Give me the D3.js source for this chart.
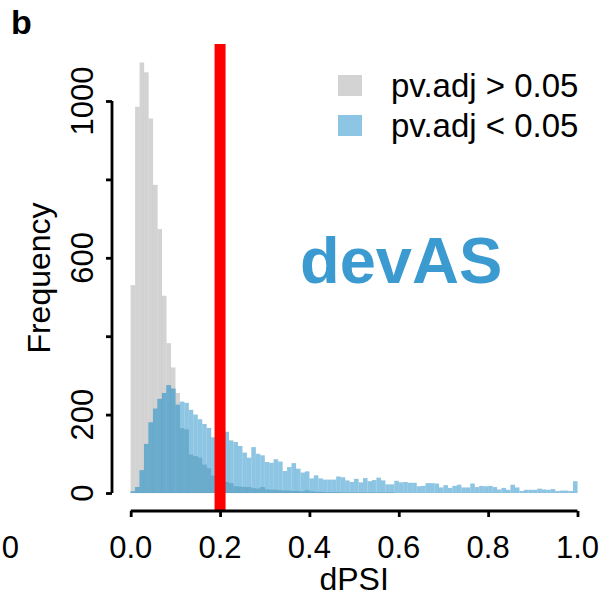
<!DOCTYPE html>
<html>
<head>
<meta charset="utf-8">
<script src="https://cdn.jsdelivr.net/npm/d3@7"></script>
<style>
  body { margin: 0; background: #fff; }
  svg text { font-family: "Liberation Sans", Arial, sans-serif; fill: #000; }
</style>
</head>
<body>
<div id="chart"></div>
<script>
// histogram counts per 0.01 dPSI bin (0.00 - 1.00)
var grayCounts = [
  530, 985, 1098, 1073, 955, 786, 673, 503, 382, 320,
  255, 165, 162, 98, 94, 90, 72, 63, 44, 36,
  31, 28, 25, 17, 16, 15, 15, 12, 11, 15,
  9, 8, 8, 7, 6, 6, 5, 5, 4, 7,
  4, 3, 3, 2, 2, 2, 2, 1, 1, 1,
  1, 1, 1, 1, 1, 1, 1, 1, 1, 0,
  0, 0, 0, 0, 0, 0, 0, 0, 0, 0,
  0, 0, 0, 0, 0, 0, 0, 0, 0, 0,
  0, 0, 0, 0, 0, 0, 0, 0, 0, 0,
  0, 0, 0, 0, 0, 0, 0, 0, 0, 0
];
var blueCounts = [
  4, 15, 58, 125, 180, 215, 240, 255, 275, 266,
  225, 233, 230, 212, 200, 188, 176, 166, 142, 150,
  140, 156, 134, 130, 120, 103, 90, 117, 100, 96,
  79, 77, 86, 80, 56, 66, 76, 62, 52, 55,
  37, 45, 37, 34, 34, 34, 42, 40, 32, 28,
  36, 27, 38, 30, 33, 39, 32, 22, 22, 31,
  27, 28, 26, 26, 17, 18, 25, 25, 24, 14,
  20, 13, 18, 21, 14, 14, 24, 15, 18, 17,
  18, 15, 9, 13, 8, 21, 14, 5, 8, 8,
  8, 11, 9, 8, 10, 5, 6, 6, 5, 30
];
var binWidth = 0.01;
var xTicks = [0, 0.2, 0.4, 0.6, 0.8, 1.0];
var yTicks = [0, 200, 400, 600, 800, 1000];
var yLabels = [0, 200, 600, 1000];
var legendLabels = ["pv.adj > 0.05", "pv.adj < 0.05"];
var cutoff = 0.2;

var width = 611, height = 606;
var grayColor = "#d3d3d3", blueColor = "#8cc6e4", overlapColor = "#6aaccd";

var svg = d3.select("#chart").append("svg")
  .attr("width", width)
  .attr("height", height);

var xScale = d3.scaleLinear().domain([0, 1]).range([130.7, 577.5]);
var yScale = d3.scaleLinear().domain([0, 1000]).range([493, 101]);

var bins = grayCounts.map(function(g, i) {
  return { x0: i * binWidth, gray: g, blue: blueCounts[i] };
});

function drawBars(cls, color, value) {
  svg.append("g").attr("class", cls)
    .selectAll("rect")
    .data(bins)
    .enter().append("rect")
    .attr("x", function(d) { return xScale(d.x0); })
    .attr("width", function(d) { return xScale(d.x0 + binWidth) - xScale(d.x0); })
    .attr("y", function(d) { return yScale(value(d)); })
    .attr("height", function(d) { return yScale(0) - yScale(value(d)); })
    .attr("fill", color)
    .attr("stroke", "rgba(0,0,0,0.035)")
    .attr("stroke-width", 0.5);
}

drawBars("gray", grayColor, function(d) { return d.gray; });
drawBars("blue", blueColor, function(d) { return d.blue; });
drawBars("overlap", overlapColor, function(d) { return Math.min(d.gray, d.blue); });

// cutoff line
svg.append("rect")
  .attr("x", xScale(cutoff) - 5.5)
  .attr("width", 11)
  .attr("y", 44)
  .attr("height", 511 - 44)
  .attr("fill", "#ff0000");

// y axis
var yAxis = svg.append("g")
  .attr("transform", "translate(112,0)")
  .call(d3.axisLeft(yScale).tickValues(yTicks).tickSize(6).tickFormat(""));
yAxis.select(".domain").attr("stroke-width", 2.8).attr("d", "M0," + yScale(0) + "V" + yScale(1000));
yAxis.selectAll(".tick line").attr("stroke-width", 2.8);

svg.append("g").selectAll("text")
  .data(yLabels)
  .enter().append("text")
  .attr("transform", function(d) { return "translate(93," + yScale(d) + ") rotate(-90)"; })
  .attr("text-anchor", "middle")
  .style("font-size", "31px")
  .text(function(d) { return d; });

// x axis
var xAxis = svg.append("g")
  .attr("transform", "translate(0,511)")
  .call(d3.axisBottom(xScale).tickValues(xTicks).tickSize(6).tickFormat(""));
xAxis.select(".domain").attr("stroke-width", 2.8).attr("d", "M" + xScale(0) + ",0H" + xScale(1));
xAxis.selectAll(".tick line").attr("stroke-width", 2.8);

svg.append("g").selectAll("text")
  .data(xTicks)
  .enter().append("text")
  .attr("x", function(d) { return xScale(d); })
  .attr("y", 558)
  .attr("text-anchor", "middle")
  .style("font-size", "31px")
  .text(function(d) { return d3.format(".1f")(d); });

// axis titles
svg.append("text")
  .attr("x", xScale(0.5))
  .attr("y", 590)
  .attr("text-anchor", "middle")
  .style("font-size", "32px")
  .text("dPSI");

svg.append("text")
  .attr("transform", "translate(50,278) rotate(-90)")
  .attr("text-anchor", "middle")
  .style("font-size", "32px")
  .text("Frequency");

// clipped label from the neighbouring panel
svg.append("text")
  .attr("x", 19)
  .attr("y", 558)
  .attr("text-anchor", "end")
  .style("font-size", "31px")
  .text("0");

// panel letter
svg.append("text")
  .attr("x", 11)
  .attr("y", 34)
  .style("font-size", "34px")
  .style("font-weight", "bold")
  .text("b");

// legend
var legend = svg.append("g").selectAll("g")
  .data(legendLabels)
  .enter().append("g")
  .attr("transform", function(d, i) { return "translate(338," + (75 + i * 40) + ")"; });
legend.append("rect")
  .attr("width", 24)
  .attr("height", 21)
  .attr("fill", function(d, i) { return i == 0 ? grayColor : blueColor; });
legend.append("text")
  .attr("x", 53)
  .attr("y", 22)
  .style("font-size", "33px")
  .text(function(d) { return d; });

svg.append("text")
  .attr("x", 300)
  .attr("y", 283)
  .style("font-size", "65px")
  .style("font-weight", "bold")
  .style("fill", "#3b9ad0")
  .text("devAS");
</script>
</body>
</html>
